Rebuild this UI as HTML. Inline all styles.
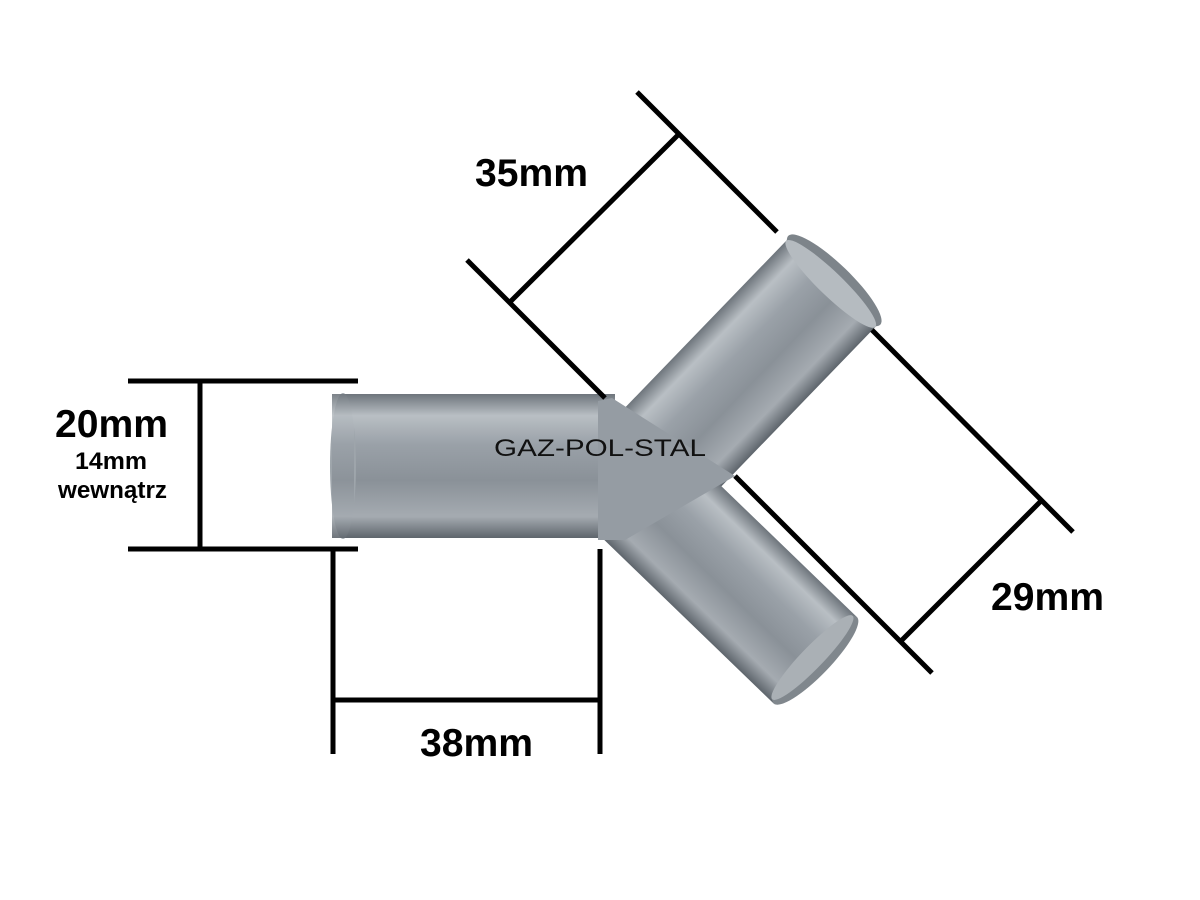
<!DOCTYPE html>
<html><head><meta charset="utf-8"><style>
html,body{margin:0;padding:0;background:#fff;}
svg{display:block;}
text{font-family:"Liberation Sans",sans-serif;}
</style></head><body>
<svg width="1200" height="900" viewBox="0 0 1200 900" xmlns="http://www.w3.org/2000/svg">
<defs>
<linearGradient id="gv" x1="0" y1="0" x2="0" y2="1">
<stop offset="0" stop-color="#6e757c"/>
<stop offset="0.15" stop-color="#b9bfc4"/>
<stop offset="0.35" stop-color="#9aa1a8"/>
<stop offset="0.6" stop-color="#8a9198"/>
<stop offset="0.85" stop-color="#a5abb1"/>
<stop offset="1" stop-color="#5e656c"/>
</linearGradient>
</defs>
<!-- upper branch -->
<g transform="translate(680,440) rotate(-46)">
<rect x="-40" y="-62" width="262" height="124" fill="url(#gv)"/>
<ellipse cx="222" cy="0" rx="16" ry="64" fill="#7d848a"/>
<ellipse cx="217" cy="0" rx="12" ry="62" fill="#b5bbc0"/>
</g>
<!-- lower branch -->
<g transform="translate(670,520) rotate(44)">
<rect x="-50" y="-60" width="252" height="120" fill="url(#gv)"/>
<ellipse cx="202" cy="0" rx="15" ry="60" fill="#80878d"/>
<ellipse cx="198" cy="0" rx="11" ry="58" fill="#aab0b5"/>
</g>
<!-- left tube -->
<rect x="345" y="394" width="270" height="144" fill="url(#gv)"/>
<polygon points="598,401 612,398 735,476 625,540 598,540" fill="#959ca3"/>
<ellipse cx="343" cy="466" rx="13" ry="73" fill="#9ea5ab"/>
<rect x="332" y="394" width="22" height="144" fill="url(#gv)" opacity="0.9"/>
<text x="494" y="456" font-size="24" textLength="212" lengthAdjust="spacingAndGlyphs" fill="#111">GAZ-POL-STAL</text>
<!-- dimension lines -->
<g stroke="#000" stroke-width="5" fill="none">
<line x1="128" y1="381" x2="358" y2="381"/>
<line x1="128" y1="549" x2="358" y2="549"/>
<line x1="200" y1="381" x2="200" y2="549"/>
<line x1="333" y1="549" x2="333" y2="754"/>
<line x1="600" y1="549" x2="600" y2="754"/>
<line x1="333" y1="700" x2="600" y2="700"/>
<line x1="637" y1="92" x2="777" y2="232"/>
<line x1="467" y1="260" x2="605" y2="398"/>
<line x1="510" y1="302" x2="678" y2="135"/>
<line x1="872" y1="330" x2="1073" y2="532"/>
<line x1="735" y1="476" x2="932" y2="673"/>
<line x1="902" y1="640" x2="1040" y2="502"/>
</g>
<g font-weight="bold" fill="#000">
<text x="475" y="186" font-size="39" textLength="113" lengthAdjust="spacingAndGlyphs">35mm</text>
<text x="55" y="437" font-size="39" textLength="113" lengthAdjust="spacingAndGlyphs">20mm</text>
<text x="75" y="469" font-size="24" textLength="72" lengthAdjust="spacingAndGlyphs">14mm</text>
<text x="58" y="498" font-size="24" textLength="109" lengthAdjust="spacingAndGlyphs">wewnątrz</text>
<text x="420" y="756" font-size="39" textLength="113" lengthAdjust="spacingAndGlyphs">38mm</text>
<text x="991" y="610" font-size="39" textLength="113" lengthAdjust="spacingAndGlyphs">29mm</text>
</g>
</svg>
</body></html>
